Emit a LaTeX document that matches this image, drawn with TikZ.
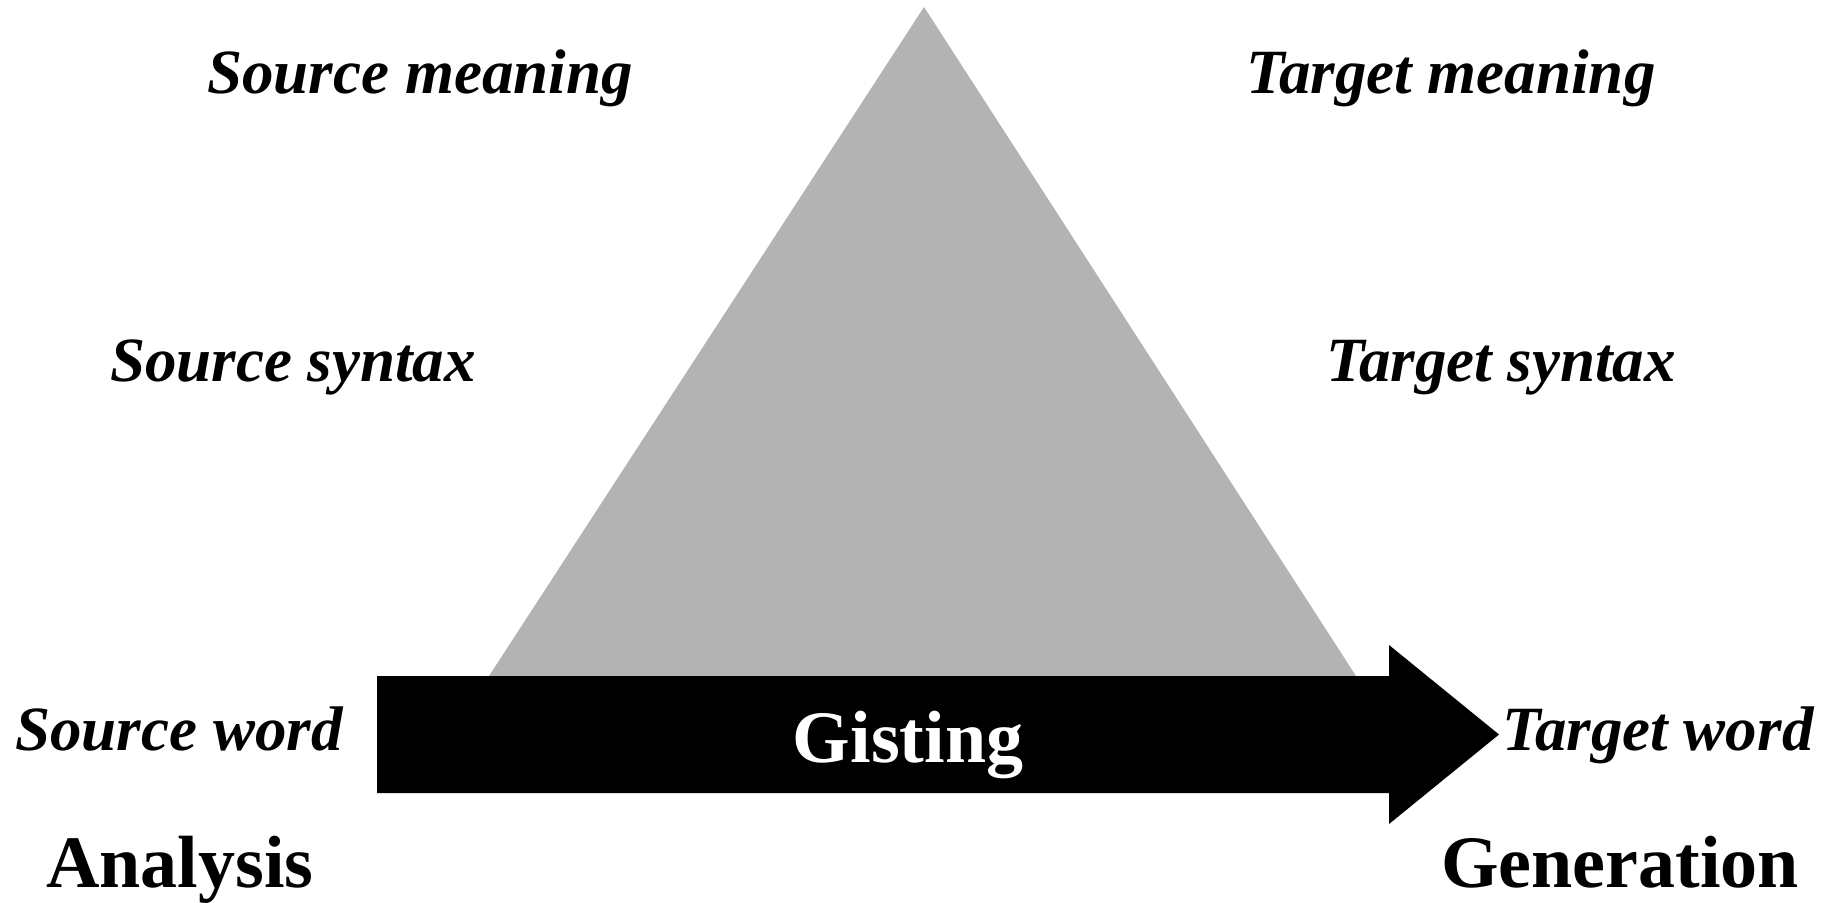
\documentclass[tikz,border=0pt]{standalone}
\usepackage{fontspec}
\setmainfont{Liberation Serif}
\begin{document}
\begin{tikzpicture}[x=1pt,y=-1pt,
  level/.style={font=\fontsize{63}{63}\selectfont\bfseries\itshape, anchor=base, inner sep=0pt},
  stage/.style={font=\fontsize{74}{74}\selectfont\bfseries, anchor=base, inner sep=0pt}]
  \definecolor{pyramid}{RGB}{179,179,179}
  \useasboundingbox (0,0) rectangle (1825,902);
  % pyramid of translation levels
  \fill[pyramid] (924,7) -- (489,676) -- (1356,676) -- cycle;
  % direct (gisting) arrow along the base
  \fill[black] (377,676) -- (1389,676) -- (1389,645) -- (1499,734.5)
     -- (1389,824) -- (1389,793) -- (377,793) -- cycle;
  \node[stage, text=white] (gist) at (908,762) {Gisting};
  % level labels
  \node[level] (smean) at (420,93) {Source meaning};
  \node[level] (tmean) at (1451,93) {Target meaning};
  \node[level] (ssyn) at (293,381) {Source syntax};
  \node[level] (tsyn) at (1501,381) {Target syntax};
  \node[level] (sword) at (179,750) {Source word};
  \node[level] (tword) at (1658,750) {Target word};
  % stage labels
  \node[stage] (ana) at (180,887) {Analysis};
  \node[stage] (gen) at (1620,887) {Generation};
\end{tikzpicture}
\end{document}
